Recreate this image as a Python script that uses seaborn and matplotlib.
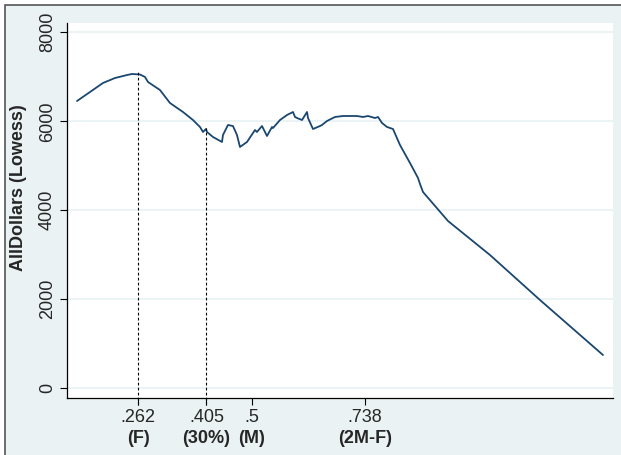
import matplotlib
matplotlib.use("Agg")
import matplotlib.pyplot as plt
from matplotlib.patches import Rectangle
import seaborn as sns
import pandas as pd

# lowess curve
share = [0.1333, 0.1878, 0.2130, 0.2382, 0.2487, 0.2655, 0.2760, 0.2823, 0.3074, 0.3284,
         0.3557, 0.3767, 0.3914, 0.3977, 0.4040, 0.4061, 0.4187, 0.4376, 0.4396, 0.4501,
         0.4606, 0.4690, 0.4753, 0.4900, 0.5026, 0.5068, 0.5110, 0.5215, 0.5320, 0.5425,
         0.5446, 0.5593, 0.5740, 0.5866, 0.5908, 0.5950, 0.6055, 0.6160, 0.6181, 0.6285,
         0.6432, 0.6474, 0.6579, 0.6747, 0.6915, 0.7209, 0.7335, 0.7440, 0.7587, 0.7650,
         0.7734, 0.7839, 0.7964, 0.8111, 0.8321, 0.8489, 0.8531, 0.8594, 0.9119, 1.0000,
         1.1049, 1.2371]
dollars = [6456, 6861, 6973, 7040, 7063, 7052, 6996, 6883, 6703, 6411,
           6209, 6029, 5872, 5760, 5827, 5760, 5647, 5535, 5692, 5917,
           5894, 5692, 5423, 5535, 5737, 5804, 5760, 5894, 5670, 5872,
           5849, 6029, 6142, 6209, 6097, 6074, 6029, 6209, 6074, 5827,
           5894, 5917, 6007, 6097, 6119, 6119, 6097, 6119, 6074, 6097,
           5962, 5872, 5827, 5467, 5063, 4726, 4591, 4411, 3759, 2995,
           1984, 748]

tick_vals = [0.262, 0.405, 0.5, 0.738]
tick_nums = [".262", ".405", ".5", ".738"]
tick_names = ["(F)", "(30%)", "(M)", "(2M-F)"]
marker_x = [0.262, 0.405]
marker_top = [7115, 5856]
y_ticks = [0, 2000, 4000, 6000, 8000]

df = pd.DataFrame({"share": share, "AllDollars": dollars})

bg = "#eaf2f3"
navy = "#1a476f"

sns.set_style("white")
plt.rcParams["font.family"] = ["Liberation Sans", "DejaVu Sans"]

fig = plt.figure(figsize=(6.21, 4.55), dpi=100, facecolor="white")
# stata style outer region, with a border on top and left only
fig.add_artist(Rectangle((5 / 621, -0.05), 1.2, 450 / 455 + 0.05, transform=fig.transFigure,
                         facecolor=bg, edgecolor="#555555", lw=1.2, zorder=-10))
ax = fig.add_axes([67 / 621, 57 / 455, 546 / 621, 375 / 455])
ax.set_facecolor("white")

for v in y_ticks:
    ax.axhline(v, color=bg, lw=1.3, zorder=0)

sns.lineplot(data=df, x="share", y="AllDollars", estimator=None, sort=False,
             color=navy, lw=1.3, ax=ax, zorder=3)

# dashed markers from the curve down past the axis
ax.vlines(marker_x, -375, marker_top, colors="black", lw=0.8,
          linestyles=(0, (2.5, 2)), clip_on=False, zorder=4)

ax.set_xlim(0.1123, 1.2581)
ax.set_ylim(-218, 8209)

ax.set_xticks(tick_vals)
ax.set_xticklabels(tick_nums, fontsize=13)
for i, t in enumerate(ax.xaxis.get_major_ticks()):
    if i < 2:
        t.tick1line.set_visible(False)
for x, name in zip(tick_vals, tick_names):
    ax.text(x, -0.107, name, transform=ax.get_xaxis_transform(), ha="center", va="center",
            fontsize=13, fontweight="bold")

ax.set_yticks(y_ticks)
ax.set_yticklabels([str(v) for v in y_ticks], fontsize=13, rotation=90, va="center")
ax.tick_params(axis="both", length=5, width=0.8, color="black", direction="out", pad=3)
ax.tick_params(axis="x", bottom=True)
ax.tick_params(axis="y", left=True)

ax.set_xlabel("")
ax.set_ylabel("AllDollars (Lowess)", fontsize=13, fontweight="bold")
ax.yaxis.set_label_coords(-0.073, 0.56)

for s in ["top", "right"]:
    ax.spines[s].set_visible(False)
for s in ["left", "bottom"]:
    ax.spines[s].set_color("black")
    ax.spines[s].set_linewidth(0.9)

fig.savefig("out.png", dpi=100)
